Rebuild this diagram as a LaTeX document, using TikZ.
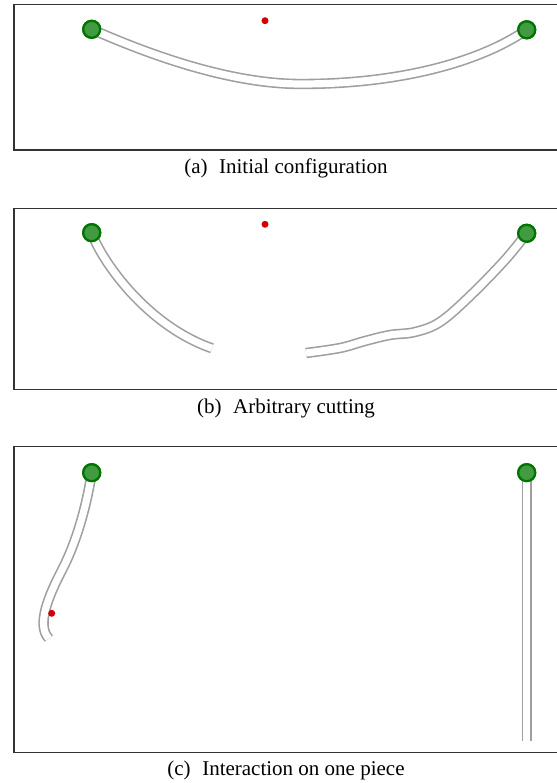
\documentclass[tikz,border=0pt]{standalone}
\usepackage{fontspec}
\setmainfont{Liberation Serif}
\begin{document}
\begin{tikzpicture}[x=1pt, y=-1pt,
ball/.style={circle, draw={rgb,255:red,0;green,115;blue,0}, fill={rgb,255:red,65;green,155;blue,65}, line width=2.2pt, minimum size=17pt, inner sep=0pt},
dot/.style={circle, fill={rgb,255:red,210;green,0;blue,0}, minimum size=7pt, inner sep=0pt},
tube/.style={draw=gray!75, line width=1.6pt, double=white, double distance=7.2pt},
frame/.style={draw=black!80, line width=1.3pt},
subcap/.style={font=\fontsize{21}{25}\selectfont, inner sep=0pt}
]
\useasboundingbox (0,0) rectangle (556,783);

% (a)
\draw[frame] (14,4.3) rectangle (558,150);
\node[ball] (ba1) at (91.7,29.3) {};
\node[ball] (ba2) at (526.7,29.8) {};
\node[dot] (pa) at (265,20.7) {};
\draw[tube] (ba1.center) .. controls (150,55) and (230,84) .. (301,84)
  .. controls (400,84) and (480,62) .. (ba2.center);
\node[ball] at (ba1) {};
\node[ball] at (ba2) {};
\node[subcap] (ca) at (286,168) {(a)\hspace{0.55em}Initial configuration};

% (b)
\draw[frame] (14,208.3) rectangle (558,389.3);
\node[ball] (bb1) at (91.7,232.7) {};
\node[ball] (bb2) at (526.7,233.3) {};
\node[dot] (pb) at (265,224.3) {};
\coordinate (eb1) at (212,348.3);
\coordinate (eb2) at (306,353);
\draw[tube] (bb1.center) .. controls (100,258) and (145,325) .. (eb1);
\draw[tube] plot[smooth, tension=0.6] coordinates {(bb2.center) (505,260) (470,296) (440,322) (415,332) (390,335) (365,341) (340,348) (eb2)};
\node[ball] at (bb1) {};
\node[ball] at (bb2) {};
\node[subcap] (cb) at (286,408) {(b)\hspace{0.55em}Arbitrary cutting};

% (c)
\draw[frame] (14,446.7) rectangle (558,752.7);
\node[ball] (bc1) at (91.7,472.7) {};
\node[ball] (bc2) at (526.7,472.7) {};
\coordinate (ec1) at (48.8,638.5);
\coordinate (ec2) at (526.7,741);
\draw[tube] (bc1.center) .. controls (86,510) and (75,545) .. (62,570)
  .. controls (49,595) and (36,625) .. (ec1);
\draw[tube] (bc2.center) -- (ec2);
\node[dot] (pc) at (51.7,613.3) {};
\node[ball] at (bc1) {};
\node[ball] at (bc2) {};
\node[subcap] (cc) at (286,770) {(c)\hspace{0.55em}Interaction on one piece};
\end{tikzpicture}
\end{document}
